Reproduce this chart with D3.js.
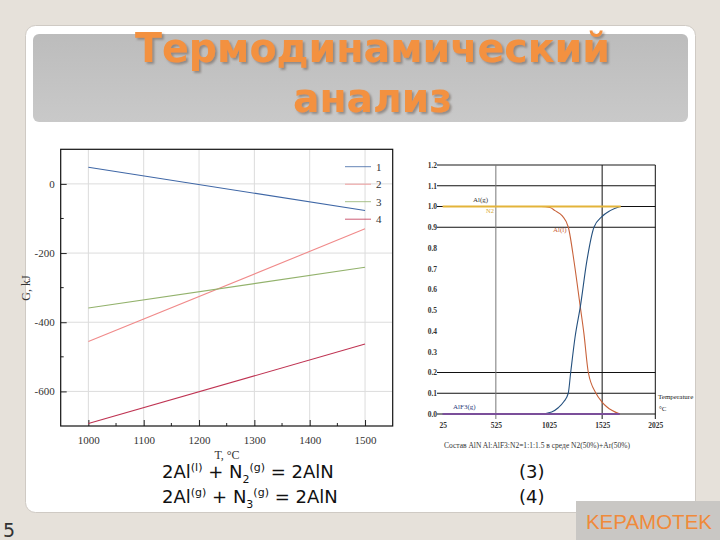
<!DOCTYPE html>
<html><head><meta charset="utf-8">
<script src="https://cdn.jsdelivr.net/npm/d3@7"></script>
<style>html,body{margin:0;padding:0;background:#e6e1da;}svg{display:block;}</style>
</head><body>
<svg id="s" width="720" height="540"></svg>
<script>
// ---------- data ----------
const titleLines = ["Термодинамический", "анализ"];
// left chart: Gibbs energy vs temperature
const leftTemps = [1000, 1500];
const series1 = [48, -77];
const series2 = [-456, -130];
const series3 = [-359, -241];
const series4 = [-693, -463];
const seriesNames = ["1", "2", "3", "4"];
const leftXTicks = [1000, 1100, 1200, 1300, 1400, 1500];
const leftXMinor = [1050, 1150, 1250, 1350, 1450];
const leftYTicks = [0, -200, -400, -600];
const leftYMinor = [-100, -300, -500];
// right chart: equilibrium composition vs temperature
const rightXTicks = [25, 525, 1025, 1525, 2025];
const rightYTicks = [0, 0.1, 0.2, 0.3, 0.4, 0.5, 0.6, 0.7, 0.8, 0.9, 1.0, 1.1, 1.2];
const rightGridY = [0, 0.1, 0.2, 0.9, 1.0, 1.1];
const rightGridX = [525, 1525, 2025];
const gasT = [25, 1700];
const gasV = [1.0, 1.0];
const fluorideT = [25, 1690];
const fluorideV = [0, 0];
const liquidT = [25, 950, 1035, 1081, 1150, 1207, 1262, 1317, 1353, 1395, 1467, 1520, 1568, 1693];
const liquidV = [1.0, 1.0, 0.995, 0.98, 0.955, 0.9, 0.73, 0.525, 0.39, 0.2, 0.1, 0.06, 0.035, 0.0];
const nitrideT = [25, 940, 1050, 1112, 1165, 1206, 1229, 1270, 1322, 1380, 1448, 1520, 1600, 1693];
const nitrideV = [0, 0, 0.01, 0.03, 0.06, 0.1, 0.2, 0.37, 0.525, 0.734, 0.9, 0.95, 0.98, 1.0];
const caption = "Состав AlN Al:AlF3:N2=1:1:1.5 в среде N2(50%)+Ar(50%)";

const svg = d3.select("#s");
const defs = svg.append("defs");

// ---------- slide frame ----------
svg.append("rect").attr("x", 0).attr("y", 0).attr("width", 720).attr("height", 540).attr("fill", "#e6e1da");
svg.append("rect").attr("x", 25.5).attr("y", 25.5).attr("width", 670).attr("height", 487).attr("rx", 10)
  .attr("fill", "#ffffff").attr("stroke", "#cfcac4");
const grad = defs.append("linearGradient").attr("id", "tg").attr("x1", 0).attr("x2", 0).attr("y1", 0).attr("y2", 1);
grad.append("stop").attr("offset", "0").attr("stop-color", "#bcbcbc");
grad.append("stop").attr("offset", "1").attr("stop-color", "#c9c9c9");
const sh = defs.append("filter").attr("id", "sh").attr("x", "-10%").attr("y", "-30%").attr("width", "120%").attr("height", "160%");
sh.append("feDropShadow").attr("dx", 2).attr("dy", 2).attr("stdDeviation", 0.8)
  .attr("flood-color", "#6f665e").attr("flood-opacity", 0.6);
svg.append("rect").attr("x", 33).attr("y", 34).attr("width", 655).attr("height", 88).attr("rx", 6).attr("fill", "url(#tg)");
const tY = [62, 112], tW = [475, 159];
titleLines.forEach((t, i) => {
  svg.append("text").attr("x", 372.5).attr("y", tY[i]).attr("text-anchor", "middle")
    .attr("font-family", "DejaVu Sans").attr("font-weight", "bold").attr("font-size", 41)
    .attr("textLength", tW[i]).attr("lengthAdjust", "spacingAndGlyphs")
    .attr("filter", "url(#sh)")
    .attr("fill", "#f3913f").text(t);
});

// ---------- left chart ----------
const L = svg.append("g");
const xL = d3.scaleLinear().domain([950, 1550]).range([60.7, 392.7]);
const yL = d3.scaleLinear().domain([-700, 100]).range([426, 149.3]);
L.selectAll(".vg").data(leftXTicks).join("line")
  .attr("x1", d => xL(d)).attr("x2", d => xL(d)).attr("y1", yL(100)).attr("y2", yL(-700))
  .attr("stroke", "#dcdcdc").attr("stroke-width", 1);
L.selectAll(".hg").data(leftYTicks).join("line")
  .attr("x1", xL(950)).attr("x2", xL(1550)).attr("y1", d => yL(d)).attr("y2", d => yL(d))
  .attr("stroke", "#dcdcdc").attr("stroke-width", 1);
const axX = d3.axisBottom(xL).tickValues(leftXTicks).tickSize(-6).tickPadding(10).tickFormat(d3.format("d"));
const gx = L.append("g").attr("transform", `translate(0,${yL(-700)})`).call(axX);
const axY = d3.axisLeft(yL).tickValues(leftYTicks).tickSize(-6).tickPadding(6).tickFormat(d => d < 0 ? "-" + Math.abs(d) : String(d));
const gy = L.append("g").attr("transform", `translate(${xL(950)},0)`).call(axY);
[gx, gy].forEach(g => {
  g.select(".domain").remove();
  g.selectAll("text").attr("font-family", "Liberation Serif").attr("font-size", 11).attr("fill", "#333");
  g.selectAll("line").attr("stroke", "#222");
});
L.selectAll(".mx").data(leftXMinor).join("line")
  .attr("x1", d => xL(d)).attr("x2", d => xL(d)).attr("y1", yL(-700)).attr("y2", yL(-700) - 3).attr("stroke", "#222");
L.selectAll(".my").data(leftYMinor).join("line")
  .attr("x1", xL(950)).attr("x2", xL(950) + 3).attr("y1", d => yL(d)).attr("y2", d => yL(d)).attr("stroke", "#222");
L.append("rect").attr("x", xL(950)).attr("y", yL(100)).attr("width", xL(1550) - xL(950)).attr("height", yL(-700) - yL(100))
  .attr("fill", "none").attr("stroke", "#111").attr("stroke-width", 1.2);

const leftSeries = [series1, series2, series3, series4];
const leftColors = ["#3f67a6", "#f08a8a", "#93b26c", "#bf3352"];
const lineL = d3.line().x(d => xL(d[0])).y(d => yL(d[1]));
leftSeries.forEach((s, i) => {
  L.append("path").attr("d", lineL(leftTemps.map((t, j) => [t, s[j]])))
    .attr("fill", "none").attr("stroke", leftColors[i]).attr("stroke-width", 1.1);
});
// legend
seriesNames.forEach((n, i) => {
  const yy = 166.7 + i * 17.5;
  L.append("line").attr("x1", 345).attr("x2", 371).attr("y1", yy).attr("y2", yy)
    .attr("stroke", leftColors[i]).attr("stroke-width", 1).attr("opacity", 0.8);
  L.append("text").attr("x", 376).attr("y", yy + 4).attr("font-family", "Liberation Serif").attr("font-size", 11)
    .attr("fill", "#333").text(n);
});
L.append("text").attr("transform", "translate(30,288) rotate(-90)").attr("text-anchor", "middle")
  .attr("font-family", "Liberation Serif").attr("font-size", 12).attr("fill", "#333").text("G, kJ");
L.append("text").attr("x", 227).attr("y", 459).attr("text-anchor", "middle")
  .attr("font-family", "Liberation Serif").attr("font-size", 12).attr("fill", "#333").text("T, °C");

// ---------- right chart ----------
const R = svg.append("g");
const xR = d3.scaleLinear().domain([25, 2025]).range([442.7, 655.3]);
const yR = d3.scaleLinear().domain([0, 1.2]).range([414, 165]);
R.selectAll(".gy").data(rightGridY).join("line")
  .attr("x1", 437).attr("x2", xR(2025)).attr("y1", d => yR(d)).attr("y2", d => yR(d))
  .attr("stroke", "#111").attr("stroke-width", 1);
R.append("line").attr("x1", 437).attr("x2", xR(2025)).attr("y1", yR(1.2)).attr("y2", yR(1.2))
  .attr("stroke", "#8c8c8c").attr("stroke-width", 2);
R.selectAll(".gx").data(rightGridX).join("line")
  .attr("x1", d => xR(d)).attr("x2", d => xR(d)).attr("y1", yR(1.2)).attr("y2", yR(0) + 5)
  .attr("stroke", d => d === 525 ? "#777" : "#111").attr("stroke-width", 1);
const axRY = d3.axisLeft(yR).tickValues(rightYTicks).tickSize(0).tickPadding(0).tickFormat(d3.format(".1f"));
const gry = R.append("g").attr("transform", "translate(437,0)").call(axRY);
gry.select(".domain").remove();
gry.selectAll("text").attr("font-family", "Liberation Serif").attr("font-weight", "bold").attr("font-size", 7.5).attr("fill", "#333");
const axRX = d3.axisBottom(xR).tickValues(rightXTicks).tickSize(0).tickPadding(0).tickFormat(d3.format("d"));
const grx = R.append("g").attr("transform", `translate(0,${yR(0) + 9})`).call(axRX);
grx.select(".domain").remove();
grx.selectAll("text").attr("font-family", "Liberation Serif").attr("font-weight", "bold").attr("font-size", 7.5).attr("fill", "#333");

const lineR = d3.line().x(d => xR(d[0])).y(d => yR(d[1])).curve(d3.curveMonotoneX);
const zip = (a, b) => a.map((t, i) => [t, b[i]]);
R.append("path").attr("d", lineR(zip(liquidT, liquidV))).attr("fill", "none").attr("stroke", "#c8623a").attr("stroke-width", 1.1);
R.append("path").attr("d", lineR(zip(nitrideT, nitrideV))).attr("fill", "none").attr("stroke", "#24507e").attr("stroke-width", 1.1);
R.append("path").attr("d", lineR(zip(gasT, gasV))).attr("fill", "none").attr("stroke", "#e3b43a").attr("stroke-width", 2);
R.append("path").attr("d", lineR(zip(fluorideT, fluorideV))).attr("fill", "none").attr("stroke", "#7b4f9a").attr("stroke-width", 2);

const lab = (x, y, t, c, s) => R.append("text").attr("x", x).attr("y", y).attr("font-family", "Liberation Serif")
  .attr("font-size", s || 7).attr("fill", c).text(t);
lab(473, 202, "Al(g)", "#333");
lab(486, 213, "N2", "#d8a830", 6.5);
lab(553, 232, "Al(l)", "#c8623a");
lab(453, 409, "AlF3(g)", "#2a3a7a");
lab(658, 399, "Temperature", "#222", 7);
lab(659, 411, "°C", "#222", 7);
R.append("text").attr("x", 537).attr("y", 448).attr("text-anchor", "middle").attr("font-family", "Liberation Serif")
  .attr("font-size", 7.5).attr("textLength", 186).attr("lengthAdjust", "spacingAndGlyphs").attr("fill", "#333").text(caption);

// ---------- equations ----------
function equation(y, supA, sub, num) {
  const t = svg.append("text").attr("x", 162).attr("y", y).attr("font-family", "DejaVu Sans").attr("font-size", 18).attr("fill", "#111");
  t.append("tspan").text("2Al");
  t.append("tspan").attr("font-size", 11).attr("dy", -7).text(supA);
  t.append("tspan").attr("dy", 7).text(" + N");
  t.append("tspan").attr("font-size", 11).attr("dy", 5).text(sub);
  t.append("tspan").attr("font-size", 11).attr("dy", -12).text("(g)");
  t.append("tspan").attr("dy", 7).text(" = 2AlN");
  svg.append("text").attr("x", 519).attr("y", y).attr("font-family", "DejaVu Sans").attr("font-size", 18).attr("fill", "#111").text(num);
}
equation(478, "(l)", "2", "(3)");
equation(503, "(g)", "3", "(4)");

// ---------- footer ----------
svg.append("text").attr("x", 3).attr("y", 537).attr("font-family", "DejaVu Sans").attr("font-size", 19).attr("fill", "#333").text("5");
svg.append("rect").attr("x", 576).attr("y", 501).attr("width", 144).attr("height", 39).attr("fill", "#c9c7c4");
svg.append("text").attr("x", 712).attr("y", 529).attr("text-anchor", "end")
  .attr("font-family", "Liberation Sans").attr("font-size", 20.5).attr("fill", "#f08a3a").text("KEPAMOTEK");
</script>
</body></html>
